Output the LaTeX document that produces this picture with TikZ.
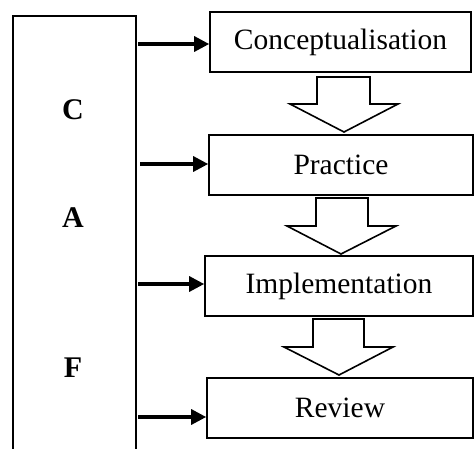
\documentclass[tikz,border=0pt]{standalone}
\usepackage{fontspec}
\setmainfont{Liberation Serif}
\usetikzlibrary{arrows.meta}
\begin{document}
\begin{tikzpicture}[x=1pt,y=-1pt,
  box/.style={draw,line width=1.6pt,minimum height=60pt,inner sep=0pt,font=\fontsize{29.5}{31}\selectfont},
  letter/.style={font=\bfseries\fontsize{30}{32}\selectfont,inner sep=0pt},
  feed/.style={line width=3.2pt,-{Triangle[length=15pt,width=15pt]}},
  hollow/.style={draw,line width=1.6pt,fill=white,line join=miter}]
\useasboundingbox (0,0) rectangle (474,448);
\clip (0,0) rectangle (474,448);
\fill[white] (0,0) rectangle (474,448);
% left column
\node[draw,line width=1.6pt,minimum width=123pt,minimum height=460pt,anchor=north west,inner sep=0pt] (L) at (12,15) {};
\node[letter] (lc) at (73,110) {C};
\node[letter] (la) at (73,218) {A};
\node[letter] (lf) at (73,368) {F};
% stage boxes
\node[box,minimum width=261pt] (c) at (340.5,42) {Conceptualisation};
\node[box,minimum width=264pt] (p) at (341,165) {Practice};
\node[box,minimum width=268pt] (i) at (339,286) {Implementation};
\node[box,minimum width=266pt] (r) at (340,408) {Review};
% feed arrows
\coordinate (s1) at (138,44);
\coordinate (s2) at (140,164);
\coordinate (s3) at (138,284);
\coordinate (s4) at (138,417);
\draw[feed] (s1) -- (s1 -| c.west);
\draw[feed] (s2) -- (s2 -| p.west);
\draw[feed] (s3) -- (s3 -| i.west);
\draw[feed] (s4) -- (s4 -| r.west);
% hollow block arrows
\draw[hollow] (317,77) -- (370,77) -- (370,104) -- (398,104) -- (344,132) -- (290,104) -- (317,104) -- cycle;
\draw[hollow] (316,198) -- (368,198) -- (368,226) -- (396,226) -- (341,254) -- (287,226) -- (316,226) -- cycle;
\draw[hollow] (313,319) -- (364,319) -- (364,347) -- (393,347) -- (339,375) -- (284,347) -- (313,347) -- cycle;
\end{tikzpicture}
\end{document}
